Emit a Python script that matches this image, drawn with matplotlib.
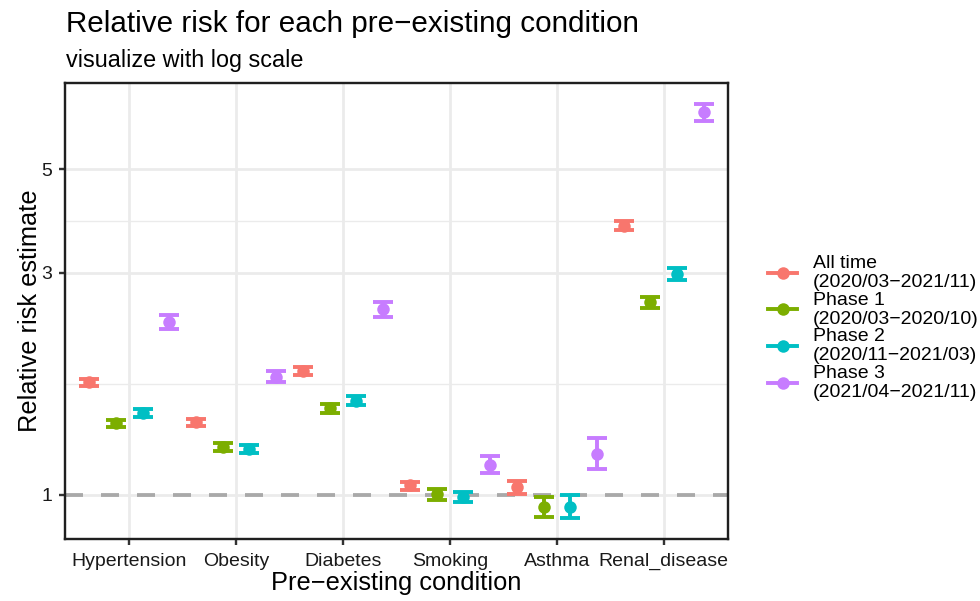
import numpy as np
import matplotlib
matplotlib.use("Agg")
import matplotlib.pyplot as plt
from matplotlib.lines import Line2D

plt.rcParams['font.family'] = ['Liberation Sans', 'DejaVu Sans']

# ---------------- data ----------------
conditions = ["Hypertension", "Obesity", "Diabetes", "Smoking", "Asthma", "Renal_disease"]
series_labels = ["All time\n(2020/03\u22122021/11)", "Phase 1\n(2020/03\u22122020/10)",
                 "Phase 2\n(2020/11\u22122021/03)", "Phase 3\n(2021/04\u22122021/11)"]
colors = ["#F8766D", "#7CAE00", "#00BFC4", "#C77CFF"]

rr_all = [1.745, 1.434, 1.849, 1.049, 1.038, 3.777]
lo_all = [1.715, 1.406, 1.813, 1.027, 1.004, 3.700]
hi_all = [1.775, 1.458, 1.886, 1.067, 1.070, 3.870]

rr_p1 = [1.427, 1.268, 1.537, 1.003, 0.940, 2.590]
lo_p1 = [1.400, 1.243, 1.502, 0.975, 0.895, 2.520]
hi_p1 = [1.450, 1.290, 1.569, 1.029, 0.991, 2.655]

rr_p2 = [1.501, 1.257, 1.590, 0.991, 0.944, 2.978]
lo_p2 = [1.470, 1.233, 1.560, 0.967, 0.891, 2.890]
hi_p2 = [1.530, 1.282, 1.627, 1.016, 0.999, 3.075]

rr_p3 = [2.354, 1.795, 2.506, 1.158, 1.227, 6.636]
lo_p3 = [2.270, 1.746, 2.413, 1.112, 1.139, 6.340]
hi_p3 = [2.430, 1.843, 2.597, 1.210, 1.326, 6.910]

est = [rr_all, rr_p1, rr_p2, rr_p3]
lows = [lo_all, lo_p1, lo_p2, lo_p3]
highs = [hi_all, hi_p1, hi_p2, hi_p3]

y_breaks = [1, 3, 5]

# ---------------- layout helpers ----------------
W, H = 980, 601
PX = 0.72  # points per pixel at dpi 100

fig = plt.figure(figsize=(W / 100, H / 100), dpi=100)
ax = fig.add_axes([65 / W, 1 - 539 / H, (728 - 65) / W, (539 - 83) / H])

n_groups = len(est)
dodge = 1.0
offsets = [(-dodge / 2 + dodge / n_groups * (i + 0.5)) for i in range(n_groups)]
cap_w = 0.75 / n_groups
xpos = np.arange(1, len(conditions) + 1)

# y limits like ggplot (5% expansion on log scale)
all_lo = np.log(min(min(l) for l in lows))
all_hi = np.log(max(max(h) for h in highs))
span = all_hi - all_lo
ylim = (np.exp(all_lo - 0.05 * span), np.exp(all_hi + 0.05 * span))

ax.set_yscale('log')
ax.set_ylim(*ylim)
ax.set_xlim(0.4, len(conditions) + 0.6)

# grid
grid_col = "#EBEBEB"
major_lw = 2.8 * PX
minor_lw = 1.4 * PX
for b in y_breaks:
    ax.axhline(b, color=grid_col, lw=major_lw, zorder=0)
lb = np.log(y_breaks)
for a, c in zip(lb[:-1], lb[1:]):
    ax.axhline(np.exp((a + c) / 2), color=grid_col, lw=minor_lw, zorder=0)
for xp in xpos:
    ax.axvline(xp, color=grid_col, lw=major_lw, zorder=0)

# reference line at 1
ref_lw = 3.8 * PX
ref = Line2D([0, 1], [1, 1], transform=ax.get_yaxis_transform(), color="#A9A9A9",
             lw=ref_lw, zorder=1)
ref.set_dashes([18 * PX / ref_lw, 18 * PX / ref_lw])
ax.add_line(ref)

bar_lw = 3.9 * PX
for i in range(n_groups):
    x = xpos + offsets[i]
    ax.vlines(x, lows[i], highs[i], color=colors[i], lw=bar_lw, zorder=3, capstyle='butt')
    ax.hlines(lows[i], x - cap_w / 2, x + cap_w / 2, color=colors[i], lw=bar_lw, zorder=3)
    ax.hlines(highs[i], x - cap_w / 2, x + cap_w / 2, color=colors[i], lw=bar_lw, zorder=3)
    ax.plot(x, est[i], 'o', color=colors[i], ms=12.5 * PX, mew=0, zorder=4)

# axes styling
ax.minorticks_off()
ax.set_yticks(y_breaks)
ax.set_yticklabels([str(b) for b in y_breaks])
ax.yaxis.set_minor_locator(matplotlib.ticker.NullLocator())
ax.set_xticks(xpos)
ax.set_xticklabels(conditions)
for s in ax.spines.values():
    s.set_color("#1F1F1F")
    s.set_linewidth(2.4 * PX)
ax.tick_params(axis='both', which='major', length=5.8 * PX, width=2.4 * PX,
               color="#333333", labelsize=14, labelcolor="#1A1A1A")
ax.tick_params(axis='x', pad=8.0 * PX)
ax.tick_params(axis='y', pad=7.0 * PX)

# titles
fig.text(66 / W, 1 - 32 / H, "Relative risk for each pre\u2212existing condition",
         fontsize=21.3, va='baseline', ha='left', color='black')
fig.text(66 / W, 1 - 67 / H, "visualize with log scale",
         fontsize=16.8, va='baseline', ha='left', color='black')
fig.text(396.5 / W, 1 - 590 / H, "Pre\u2212existing condition",
         fontsize=18.3, va='baseline', ha='center', color='black')
fig.text(30 / W, 1 - 311 / H, "Relative risk estimate", rotation=90,
         fontsize=18.3, va='center', ha='center', color='black')

# legend
handles = [Line2D([], [], color=c, lw=3.9 * PX, marker='o', ms=12.5 * PX, mew=0)
           for c in colors]
leg = fig.legend(handles, series_labels, loc='center left',
                 bbox_to_anchor=(768 / W, 1 - 328 / H), frameon=False,
                 fontsize=14, handlelength=29 * PX / 14,
                 handletextpad=16 * PX / 14, borderpad=0, borderaxespad=0,
                 labelspacing=0.05, numpoints=1)
for t in leg.get_texts():
    t.set_linespacing(1.14)

fig.savefig("out.png", dpi=100)
